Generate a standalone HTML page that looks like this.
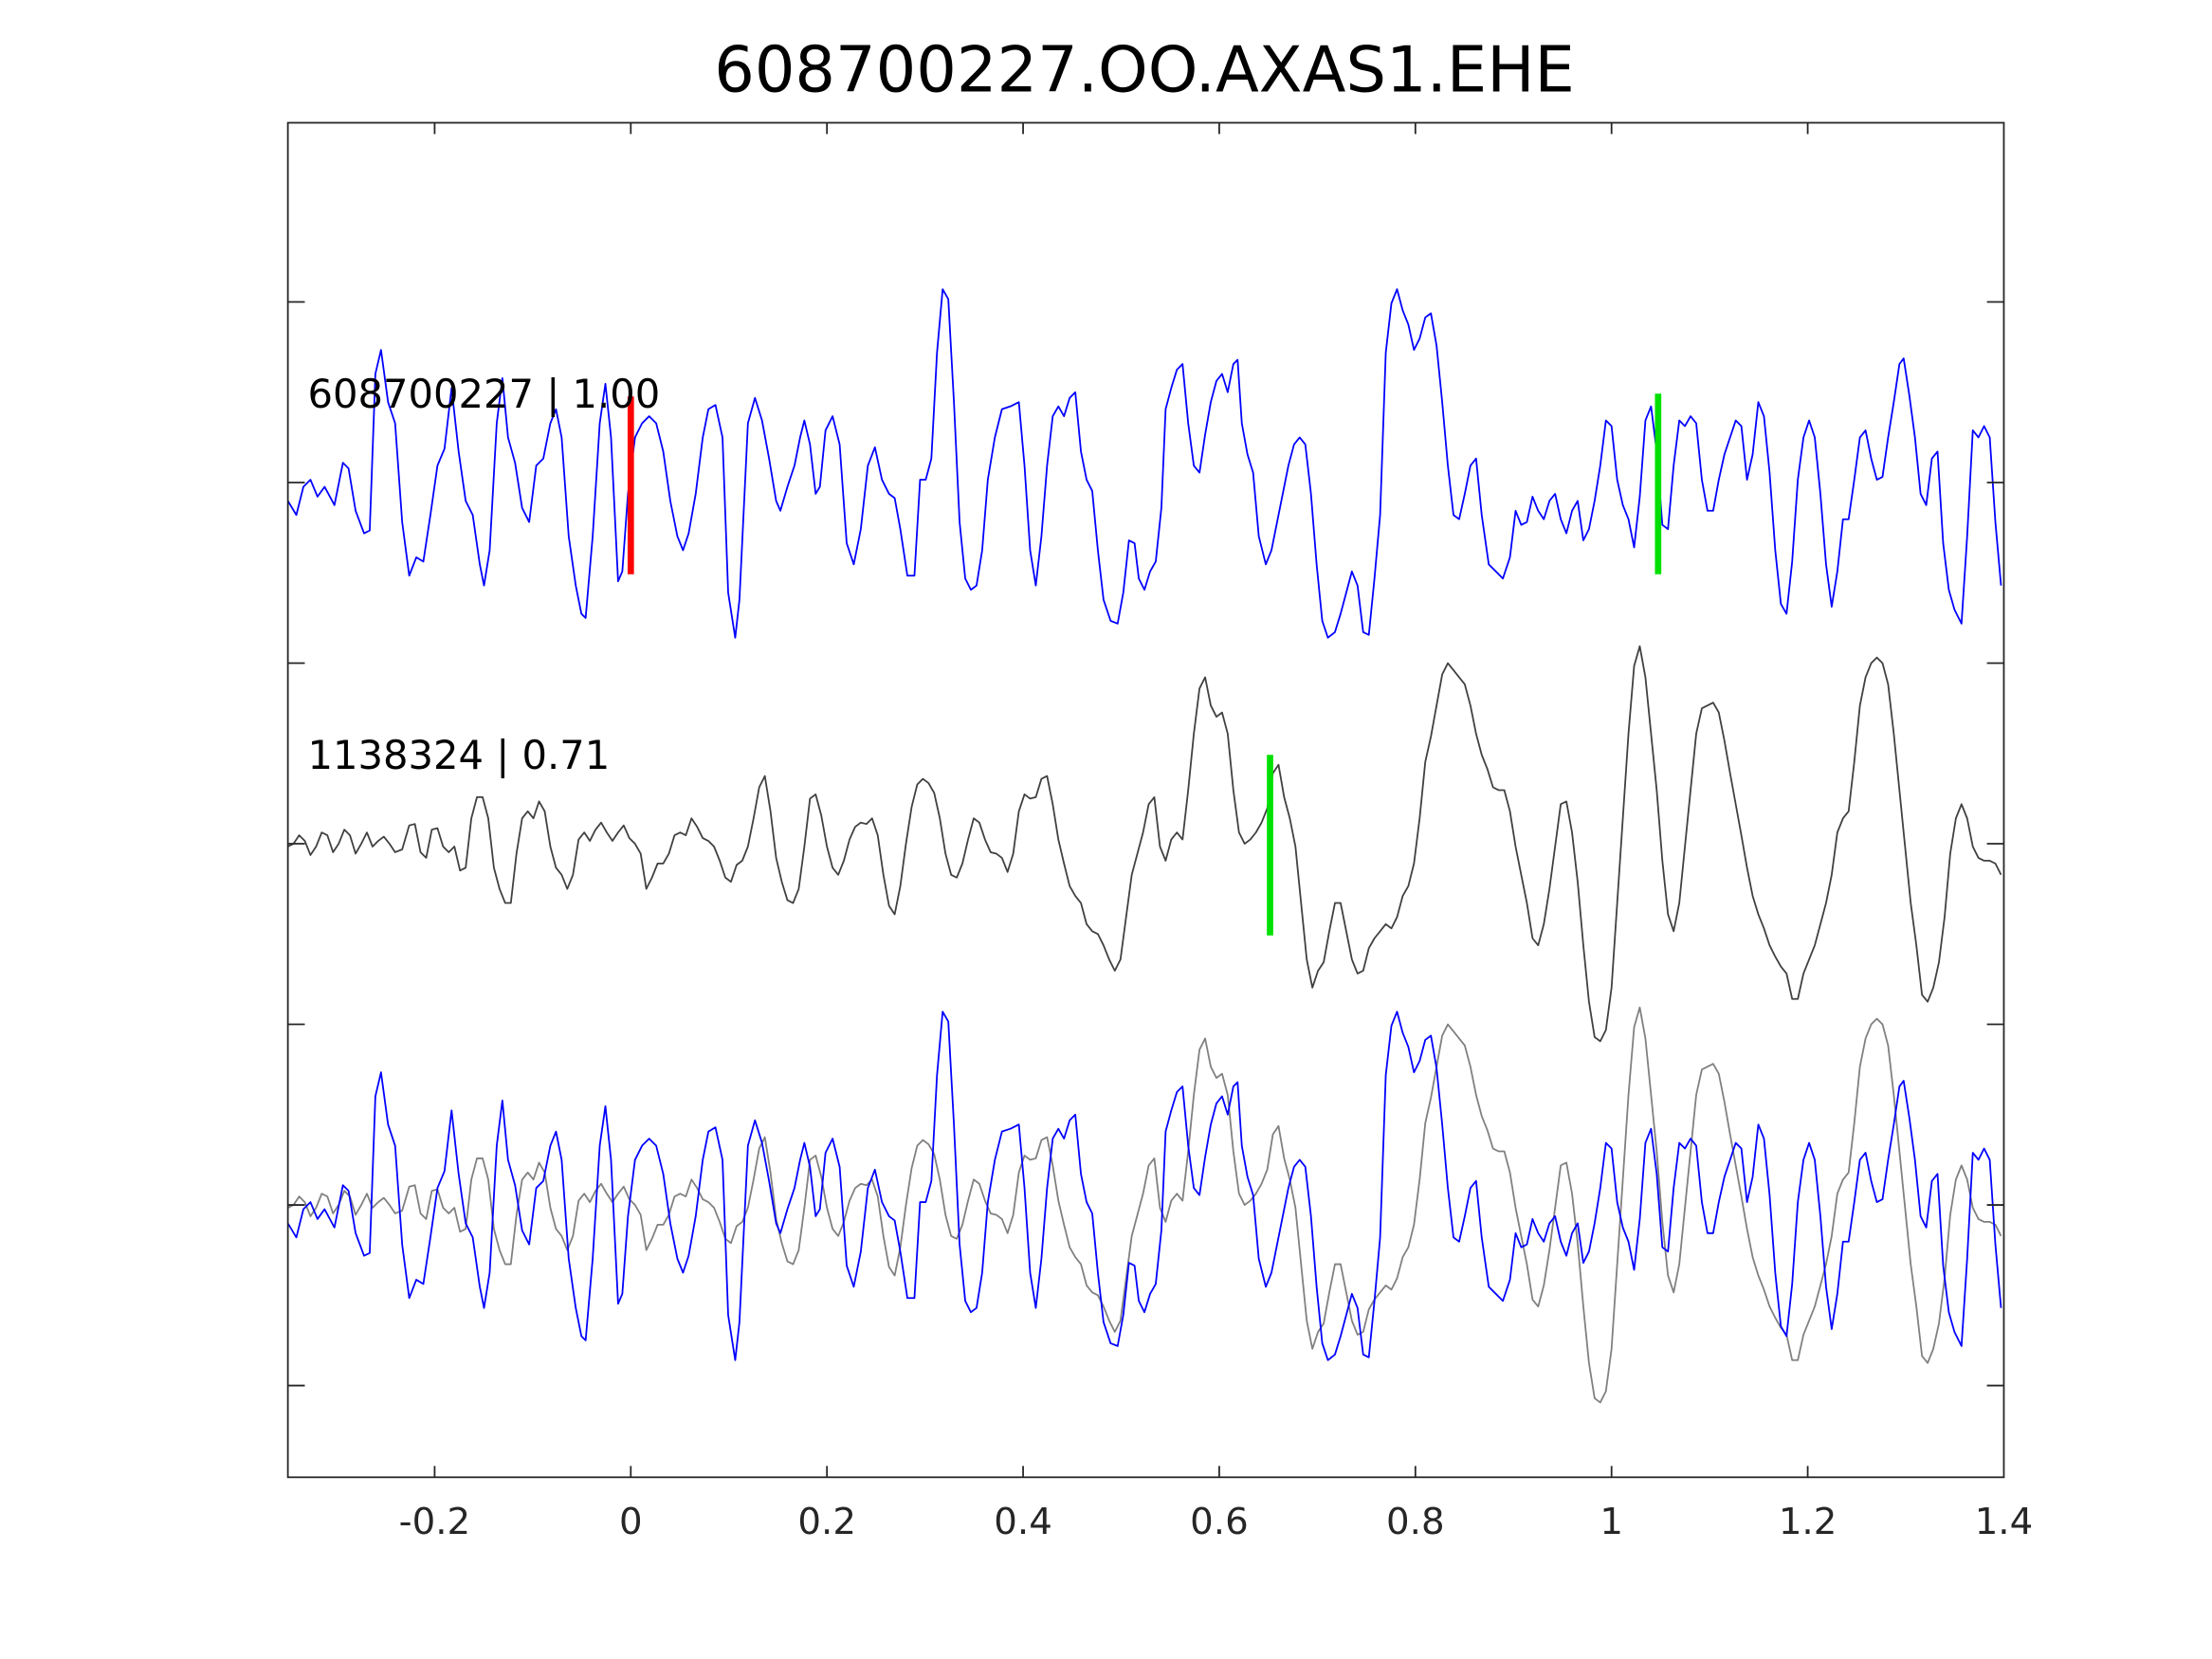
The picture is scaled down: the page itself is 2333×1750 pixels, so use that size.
<!DOCTYPE html>
<html><head><meta charset="utf-8"><style>
html,body{margin:0;padding:0;background:#fff;}
svg{display:block;}
text{font-family:"DejaVu Sans","Liberation Sans",sans-serif;}
</style></head><body>
<svg width="2333" height="1750" viewBox="0 0 1567.5 1175.8" preserveAspectRatio="none" xmlns="http://www.w3.org/2000/svg">
<defs>
<clipPath id="cp"><rect x="204" y="87" width="1216" height="960"/></clipPath>
<path id="b" fill="none" d="M204,355 L210,365 215,345 220,340 225,352 230,345 237,358 243,328 247,332 252,362 258,378 262,376 266,265 270,248 275,285 280,300 285,370 290,408 295,395 300,398 305,365 310,330 315,318 320,275 325,320 330,355 335,365 340,400 343,415 347,390 352,300 356,268 360,310 365,328 370,360 375,370 380,330 385,325 390,300 394,290 398,310 403,380 408,415 412,435 415,438 420,380 425,300 429,272 433,310 438,412 441,405 445,350 450,310 455,300 460,295 465,300 470,320 475,355 480,380 484,390 488,378 493,350 498,310 502,290 507,287 512,310 516,420 521,452 524,425 530,300 535,282 540,298 545,325 550,355 553,362 558,345 563,330 567,310 570,298 574,315 578,350 581,345 585,305 590,295 595,315 600,385 605,400 610,375 615,330 620,317 625,340 630,350 634,353 638,375 643,408 648,408 652,340 656,340 660,325 664,250 668,205 672,212 676,285 680,370 684,410 688,418 692,415 696,390 700,340 705,310 710,290 716,288 722,285 726,330 730,390 734,415 738,380 742,330 746,295 750,288 754,295 758,282 762,278 766,320 770,340 774,348 778,390 782,425 787,440 792,442 796,420 800,383 804,385 807,410 811,418 815,405 819,398 823,360 826,290 830,275 834,262 838,258 842,300 846,330 850,335 854,308 858,285 862,270 866,265 870,278 874,258 877,255 880,300 884,322 888,335 892,380 897,400 901,390 905,370 909,350 913,330 917,315 921,310 925,315 929,350 933,400 937,440 941,452 946,448 950,435 954,420 958,405 962,415 966,448 970,450 974,410 978,365 982,250 986,215 990,205 994,220 998,230 1002,248 1006,240 1010,225 1014,222 1018,245 1022,285 1026,330 1030,365 1034,368 1038,350 1042,330 1046,325 1050,365 1055,400 1060,405 1065,410 1070,395 1074,362 1078,372 1082,370 1086,352 1090,362 1094,368 1098,355 1102,350 1106,368 1110,378 1114,362 1118,355 1122,383 1126,375 1130,355 1134,330 1138,298 1142,302 1146,340 1150,358 1154,368 1158,388 1162,352 1166,298 1170,288 1174,320 1178,372 1182,375 1186,330 1190,298 1194,302 1198,295 1202,300 1206,340 1210,362 1214,362 1218,340 1222,322 1226,310 1230,298 1234,302 1238,340 1242,322 1246,285 1250,295 1254,335 1258,390 1262,428 1266,435 1270,398 1274,340 1278,310 1282,298 1286,310 1290,350 1294,400 1298,430 1302,405 1306,368 1310,368 1314,340 1318,310 1322,305 1326,325 1330,340 1334,338 1338,310 1342,285 1346,258 1349,254 1353,280 1357,310 1361,350 1365,358 1369,325 1373,320 1377,385 1381,418 1385,432 1390,442 1394,380 1398,305 1402,310 1406,302 1410,310 1414,370 1418,415"/>
<path id="g" fill="none" d="M204,600 L208,598 212,592 216,596 220,606 224,600 228,590 232,592 236,604 240,598 244,588 248,592 252,605 256,598 260,590 264,600 268,596 272,593 276,598 280,604 285,602 290,585 294,584 298,604 302,608 306,588 310,587 314,600 318,604 322,600 326,617 330,615 334,580 338,565 342,565 346,580 350,615 354,630 358,640 362,640 366,605 370,580 374,575 378,580 382,568 386,575 390,600 394,615 398,620 402,630 406,620 410,595 414,590 418,596 422,588 426,583 430,590 434,596 438,590 442,585 446,594 450,598 454,605 458,630 462,622 466,612 470,612 474,605 478,592 482,590 486,592 490,580 494,586 498,594 502,596 506,600 510,610 514,622 518,625 522,613 526,610 530,600 534,580 538,558 542,550 546,575 550,608 554,625 558,638 562,640 566,630 570,600 574,566 578,563 582,578 586,600 590,615 594,620 598,610 602,595 606,586 610,583 614,584 618,580 622,592 626,620 630,642 634,648 638,628 642,598 646,572 650,556 654,552 658,555 662,562 666,580 670,605 674,620 678,622 682,612 686,595 690,580 694,583 698,595 702,604 706,605 710,608 714,618 718,605 722,575 726,563 730,566 734,565 738,552 742,550 746,570 750,595 754,612 758,628 762,635 766,640 770,655 774,660 778,662 782,670 786,680 790,688 794,680 798,650 802,620 806,605 810,590 814,570 818,565 822,600 826,610 830,595 834,590 838,595 842,560 846,520 850,488 854,480 858,500 862,508 866,505 870,520 874,560 878,590 882,598 886,595 890,590 894,583 898,573 902,548 906,542 910,565 914,580 918,600 922,640 926,680 930,700 934,688 938,682 942,660 946,640 950,640 954,660 958,680 962,690 966,688 970,672 974,665 978,660 982,655 986,658 990,650 994,635 998,628 1002,612 1006,580 1010,540 1014,522 1018,500 1022,478 1026,470 1030,475 1034,480 1038,485 1042,500 1046,520 1050,535 1054,545 1058,558 1062,560 1066,560 1070,575 1074,600 1078,620 1082,640 1086,665 1090,670 1094,655 1098,630 1102,600 1106,570 1110,568 1114,590 1118,625 1122,670 1126,710 1130,735 1134,738 1138,730 1142,700 1146,640 1150,580 1154,520 1158,472 1162,458 1166,480 1170,520 1174,560 1178,610 1182,648 1186,660 1190,640 1194,600 1198,560 1202,520 1206,502 1210,500 1214,498 1218,505 1222,525 1226,548 1230,570 1234,592 1238,615 1242,635 1246,648 1250,658 1254,670 1258,678 1262,685 1266,690 1270,708 1274,708 1278,690 1282,680 1286,670 1290,655 1294,640 1298,620 1302,590 1306,580 1310,575 1314,540 1318,500 1322,480 1326,470 1330,466 1334,470 1338,485 1342,520 1346,560 1350,600 1354,640 1358,670 1362,705 1366,710 1370,700 1374,682 1378,650 1382,605 1386,580 1390,570 1394,580 1398,600 1402,608 1406,610 1410,610 1414,612 1418,620"/>
</defs>
<rect x="0" y="0" width="1567.5" height="1175.8" fill="#fff"/>
<g clip-path="url(#cp)" stroke-width="1.2" stroke-linejoin="round">
<use href="#b" stroke="#0000ff"/>
<use href="#g" stroke="#404040"/>
<use href="#g" stroke="#808080" transform="translate(0,256)"/>
<use href="#b" stroke="#0000ff" transform="translate(0,512)"/>
</g>
<line x1="447" y1="281" x2="447" y2="407" stroke="#ff0000" stroke-width="4.5"/>
<line x1="1175" y1="279" x2="1175" y2="407" stroke="#00e000" stroke-width="4.5"/>
<line x1="900" y1="535" x2="900" y2="663" stroke="#00e000" stroke-width="4.5"/>
<text x="218" y="289" font-size="28" fill="#000">608700227 | 1.00</text>
<text x="218" y="545" font-size="28" fill="#000">1138324 | 0.71</text>
<rect x="204" y="87" width="1216" height="960" fill="none" stroke="#262626" stroke-width="1.2"/>
<g stroke="#262626" stroke-width="1.2">
<line x1="308" y1="1047" x2="308" y2="1039"/><line x1="308" y1="87" x2="308" y2="95"/>
<line x1="447" y1="1047" x2="447" y2="1039"/><line x1="447" y1="87" x2="447" y2="95"/>
<line x1="586" y1="1047" x2="586" y2="1039"/><line x1="586" y1="87" x2="586" y2="95"/>
<line x1="725" y1="1047" x2="725" y2="1039"/><line x1="725" y1="87" x2="725" y2="95"/>
<line x1="864" y1="1047" x2="864" y2="1039"/><line x1="864" y1="87" x2="864" y2="95"/>
<line x1="1003" y1="1047" x2="1003" y2="1039"/><line x1="1003" y1="87" x2="1003" y2="95"/>
<line x1="1142" y1="1047" x2="1142" y2="1039"/><line x1="1142" y1="87" x2="1142" y2="95"/>
<line x1="1281" y1="1047" x2="1281" y2="1039"/><line x1="1281" y1="87" x2="1281" y2="95"/>
<line x1="204" y1="214" x2="216" y2="214"/><line x1="1420" y1="214" x2="1408" y2="214"/>
<line x1="204" y1="342" x2="216" y2="342"/><line x1="1420" y1="342" x2="1408" y2="342"/>
<line x1="204" y1="470" x2="216" y2="470"/><line x1="1420" y1="470" x2="1408" y2="470"/>
<line x1="204" y1="598" x2="216" y2="598"/><line x1="1420" y1="598" x2="1408" y2="598"/>
<line x1="204" y1="726" x2="216" y2="726"/><line x1="1420" y1="726" x2="1408" y2="726"/>
<line x1="204" y1="854" x2="216" y2="854"/><line x1="1420" y1="854" x2="1408" y2="854"/>
<line x1="204" y1="982" x2="216" y2="982"/><line x1="1420" y1="982" x2="1408" y2="982"/>
</g>
<g font-size="26" fill="#262626" text-anchor="middle">
<text x="308" y="1087">-0.2</text><text x="447" y="1087">0</text><text x="586" y="1087">0.2</text>
<text x="725" y="1087">0.4</text><text x="864" y="1087">0.6</text><text x="1003" y="1087">0.8</text>
<text x="1142" y="1087">1</text><text x="1281" y="1087">1.2</text><text x="1420" y="1087">1.4</text>
</g>
<text x="811" y="65" font-size="45" fill="#000" text-anchor="middle">608700227.OO.AXAS1.EHE</text>
</svg>
</body></html>
